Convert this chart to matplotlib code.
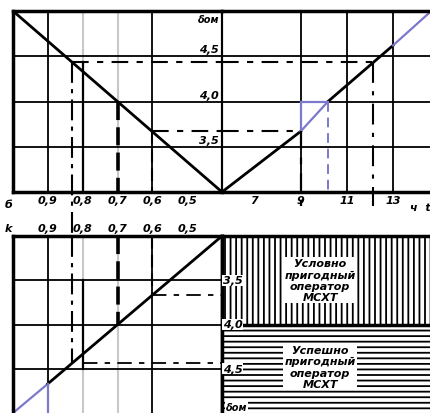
import matplotlib
matplotlib.use("Agg")
import matplotlib.pyplot as plt
from matplotlib.patches import Rectangle

# k scale (left half) and delta scale
k_ticks = [0.9, 0.8, 0.7, 0.6, 0.5]
k_labels = ['0,9', '0,8', '0,7', '0,6', '0,5']
k_grid_dark = [0.9, 0.6]
k_grid_light = [0.8, 0.7]
d_ticks = [3.5, 4.0, 4.5]
d_labels = ['3,5', '4,0', '4,5']

# k -> delta straight line
k_line = [1.0, 0.9, 0.4]
d_line = [5.0, 4.67, 3.0]

# time scale (right half), hours
t_ticks = [7, 9, 11, 13]
t_labels = ['7', '9', '11', '13']
t_grid = [9, 11, 13]
t_black1 = [5.6, 9.0]
d_black1 = [3.0, 3.67]
t_blue1 = [9.0, 10.18]
d_blue1 = [3.67, 4.0]
t_black2 = [10.18, 12.99]
d_black2 = [4.0, 4.62]
t_blue2 = [12.99, 14.6]
d_blue2 = [4.62, 4.99]

# reading lines
k_hi, d_hi, t_hi = 0.83, 4.44, 12.13
k_lo, d_lo, t_lo = 0.6, 3.67, 9.0
k_mid, d_mid = 0.7, 4.0
t_blue_v = 10.18

BLUE = '#7c78cc'
GRAY = '#c8c8c8'
FONT = dict(family=['Liberation Sans Narrow', 'DejaVu Sans'], style='italic', weight='bold')

W, H = 431, 414


def box(x0, y0, x1, y1):
    return [x0 / W, 1 - y1 / H, (x1 - x0) / W, (y1 - y0) / H]


fig = plt.figure(figsize=(W / 100, H / 100), dpi=100)
plt.rcParams['hatch.linewidth'] = 1.3

ax_tl = fig.add_axes(box(13, 12, 222, 193))
ax_tr = fig.add_axes(box(222, 12, 431, 193))
ax_bl = fig.add_axes(box(13, 237, 222, 414))
ax_br = fig.add_axes(box(222, 237, 431, 414))

ax_tl.set_xlim(1.0, 0.4)
ax_tl.set_ylim(3, 5)
ax_tr.set_xlim(5.6, 14.63)
ax_tr.set_ylim(3, 5)
ax_bl.set_xlim(1.0, 0.4)
ax_bl.set_ylim(5, 3)
ax_br.set_xlim(0, 1)
ax_br.set_ylim(5, 3)

for ax in [ax_tl, ax_tr, ax_bl, ax_br]:
    ax.set_facecolor('none')
    ax.tick_params(length=0, labelleft=False, labelbottom=False)
    ax.set_yticks([])
    for s in ax.spines.values():
        s.set_linewidth(2.5)

ax_tr.spines['right'].set_visible(False)
ax_tr.spines['left'].set_linewidth(1.5)
ax_tl.spines['right'].set_linewidth(1.5)
ax_bl.spines['bottom'].set_visible(False)
ax_br.spines['bottom'].set_visible(False)
ax_br.spines['right'].set_visible(False)

# grid
for ax in [ax_tl, ax_tr, ax_bl]:
    for d in d_ticks:
        ax.axhline(d, color='black', lw=1.3, zorder=1)
for ax in [ax_tl, ax_bl]:
    for k in k_grid_dark:
        ax.axvline(k, color='black', lw=1.3, zorder=1)
    for k in k_grid_light:
        ax.axvline(k, color=GRAY, lw=1.5, zorder=0)
for t in t_grid:
    ax_tr.axvline(t, color='black', lw=1.3, zorder=1)

# top: falling k line and rising time line
ax_tl.plot([k_line[0], k_line[-1]], [d_line[0], d_line[-1]], color='black', lw=2)
ax_tr.plot(t_black1, d_black1, color='black', lw=2)
ax_tr.plot(t_blue1, d_blue1, color=BLUE, lw=1.6)
ax_tr.plot(t_black2, d_black2, color='black', lw=2)
ax_tr.plot(t_blue2, d_blue2, color=BLUE, lw=1.6)
ax_tr.plot([t_lo, t_lo], [d_lo, d_mid], color=BLUE, lw=1.6)
ax_tr.plot([t_lo, t_blue_v], [d_mid, d_mid], color=BLUE, lw=1.6)
ax_tr.plot([t_blue_v, t_blue_v], [d_mid, 3.0], color=BLUE, lw=1.4, ls=(0, (5, 3)))

# bottom: rising k line
ax_bl.plot(k_line[:2], d_line[:2], color=BLUE, lw=1.6)
ax_bl.plot(k_line[1:], d_line[1:], color='black', lw=2)
ax_bl.plot([0.9, 0.9], [d_line[1], 5.0], color=BLUE, lw=1.6)

# reading lines, horizontal
dash = (0, (8, 4, 3, 4))
ax_tl.plot([k_hi, 0.4], [d_hi, d_hi], color='black', lw=1.5, ls=dash)
ax_tr.plot([5.6, t_hi], [d_hi, d_hi], color='black', lw=1.5, ls=dash)
ax_tl.plot([k_lo, 0.4], [d_lo, d_lo], color='black', lw=1.5, ls=dash)
ax_tr.plot([5.6, t_lo], [d_lo, d_lo], color='black', lw=1.5, ls=dash)
ax_bl.plot([0.8, 0.4], [d_hi, d_hi], color='black', lw=1.3, ls=dash)
ax_bl.plot([k_lo, 0.4], [d_lo, d_lo], color='black', lw=1.3, ls=dash)

# reading lines, vertical
ax_tl.plot([k_hi, k_hi], [d_hi, 2.5], color='black', lw=1.5, ls=(0, (10, 3, 2, 3)), clip_on=False)
ax_bl.plot([k_hi, k_hi], [3.0, d_hi], color='black', lw=1.5, ls=(0, (10, 3, 2, 3)))
ax_tl.plot([0.8, 0.8], [d_hi, 3.0], color='black', lw=1.6)
ax_bl.plot([0.8, 0.8], [3.5, 4.5], color='black', lw=1.6)
ax_tl.plot([k_mid, k_mid], [d_mid, 3.0], color='black', lw=2.6, ls=(0, (5, 2)))
ax_bl.plot([k_mid, k_mid], [3.0, d_mid], color='black', lw=2.6, ls=(0, (5, 2)))
ax_tl.plot([k_lo, k_lo], [d_lo, 3.0], color='black', lw=1.5, ls=(0, (6, 3)))
ax_bl.plot([k_lo, k_lo], [3.0, d_lo], color='black', lw=1.5, ls=(0, (6, 3)))
ax_tr.plot([t_lo, t_lo], [d_lo, 2.85], color='black', lw=1.6, ls=(0, (8, 4, 3, 4)), clip_on=False)
ax_tr.plot([t_hi, t_hi], [d_hi, 2.85], color='black', lw=1.5, ls=(0, (10, 4, 2, 4)), clip_on=False)

# axis labels
ax_tl.set_xticks(k_ticks, k_labels, fontsize=8, **FONT)
ax_tl.tick_params(labelbottom=True, pad=2)
ax_tr.set_xticks(t_ticks, t_labels, fontsize=8, **FONT)
ax_tr.tick_params(labelbottom=True, pad=2)
xt = ax_tl.get_xaxis_transform()
ax_tl.text(1.012, -0.04, 'б', transform=xt, ha='center', va='top', fontsize=8, **FONT)
ax_tl.text(1.012, -0.17, 'k', transform=xt, ha='center', va='top', fontsize=8, **FONT)
for k, lab in zip(k_ticks, k_labels):
    ax_tl.text(k, -0.17, lab, transform=xt, ha='center', va='top', fontsize=8, **FONT)
ax_tr.text(14.16, -0.055, 'ч  t', transform=ax_tr.get_xaxis_transform(),
           ha='center', va='top', fontsize=8, **FONT)

for d, lab in zip(d_ticks, d_labels):
    ax_tl.text(0.408, d + 0.02, lab, ha='right', va='bottom', fontsize=8, **FONT)
ax_tl.text(0.408, 4.91, 'δом', ha='right', va='center', fontsize=7, **FONT)

# hatched zones
ax_br.add_patch(Rectangle((0, 3.0), 1, 1.0, facecolor='white', edgecolor='black',
                          hatch='|||', lw=0, zorder=0))
ax_br.add_patch(Rectangle((0, 4.0), 1, 1.0, facecolor='white', edgecolor='black',
                          hatch='---', lw=0, zorder=0))
ax_br.axhline(4.0, color='black', lw=2.5)
ax_br.text(0.47, 3.5, 'Условно\nпригодный\nоператор\nМСХТ', ha='center', va='center',
           fontsize=8, linespacing=1.15, bbox=dict(facecolor='white', edgecolor='none', pad=1), **FONT)
ax_br.text(0.47, 4.48, 'Успешно\nпригодный\nоператор\nМСХТ', ha='center', va='center',
           fontsize=8, linespacing=1.15, bbox=dict(facecolor='white', edgecolor='none', pad=1), **FONT)
for d, lab in zip(d_ticks, d_labels):
    ax_br.text(0.05, d, lab, ha='center', va='center', fontsize=8,
               bbox=dict(facecolor='white', edgecolor='none', pad=0.5), **FONT)
ax_br.text(0.07, 4.93, 'δом', ha='center', va='center', fontsize=7,
           bbox=dict(facecolor='white', edgecolor='none', pad=0.5), **FONT)

fig.savefig('out.png', dpi=100)
